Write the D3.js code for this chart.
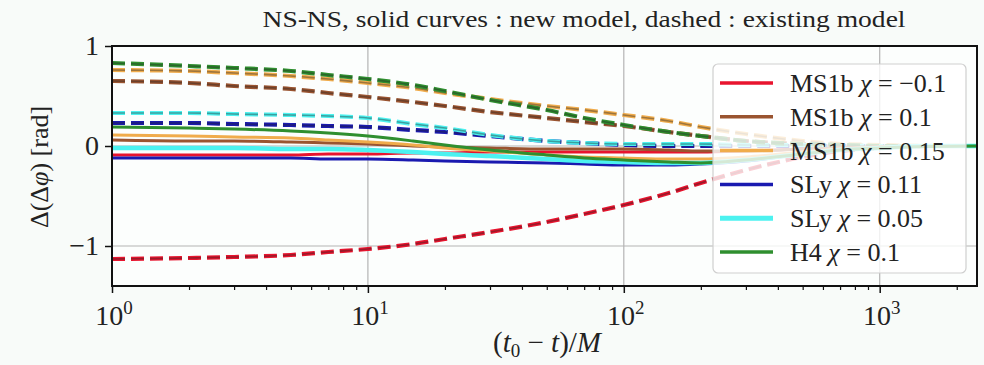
<!DOCTYPE html>
<html>
<head>
<meta charset="utf-8">
<script src="https://cdnjs.cloudflare.com/ajax/libs/d3/7.8.5/d3.min.js"></script>
<style>
  body { margin: 0; background: #f8fbf9; }
</style>
</head>
<body>
<div id="chart"></div>
<script>
// time samples (t0 - t)/M
var times = [1, 2, 3, 5, 7, 10, 15, 20, 30, 50, 70, 100, 150, 200, 300, 500, 700, 1000, 1500, 2400];

// model labels and colours
var models = ["MS1b", "MS1b", "MS1b", "SLy", "SLy", "H4"];
var chis = ["\u22120.1", "0.1", "0.15", "0.11", "0.05", "0.1"];
var colors = ["#e8142e", "#9a5430", "#f0ac4c", "#1a1ab0", "#4cf2f0", "#2f8f2f"];

// solid curves : new model
var newRed    = [-0.09, -0.09, -0.09, -0.09, -0.08, -0.08, -0.07, -0.07, -0.06, -0.06, -0.06, -0.06, -0.06, -0.06, -0.05, -0.03, -0.02, -0.01, 0, 0];
var newBrown  = [0.06, 0.05, 0.05, 0.04, 0.03, 0.02, 0.0, -0.01, -0.02, -0.03, -0.03, -0.03, -0.04, -0.05, -0.05, -0.03, -0.02, -0.01, 0, 0];
var newOrange = [0.11, 0.10, 0.09, 0.08, 0.06, 0.04, 0.01, -0.02, -0.05, -0.09, -0.11, -0.12, -0.13, -0.13, -0.11, -0.06, -0.03, -0.01, 0, 0];
var newBlue   = [-0.12, -0.12, -0.12, -0.12, -0.13, -0.13, -0.14, -0.15, -0.16, -0.17, -0.18, -0.19, -0.19, -0.18, -0.15, -0.08, -0.04, -0.02, 0, 0];
var newCyan   = [-0.02, -0.02, -0.02, -0.03, -0.03, -0.04, -0.06, -0.08, -0.10, -0.13, -0.15, -0.16, -0.17, -0.17, -0.14, -0.08, -0.04, -0.02, 0, 0];
var newGreen  = [0.19, 0.18, 0.17, 0.15, 0.13, 0.10, 0.05, 0.01, -0.04, -0.09, -0.12, -0.14, -0.16, -0.17, -0.14, -0.08, -0.04, -0.02, -0.005, 0];

// dashed curves : existing model
var oldRed    = [-1.13, -1.12, -1.11, -1.09, -1.06, -1.03, -0.98, -0.93, -0.86, -0.76, -0.68, -0.59, -0.47, -0.37, -0.24, -0.11, -0.05, -0.02, 0, 0];
var oldBrown  = [0.65, 0.63, 0.60, 0.57, 0.53, 0.49, 0.44, 0.40, 0.34, 0.28, 0.24, 0.20, 0.14, 0.10, 0.05, 0.02, 0.01, 0, 0, 0];
var oldOrange = [0.76, 0.75, 0.73, 0.70, 0.67, 0.63, 0.58, 0.53, 0.47, 0.40, 0.36, 0.31, 0.25, 0.19, 0.12, 0.05, 0.02, 0.01, 0, 0];
var oldBlue   = [0.23, 0.23, 0.22, 0.21, 0.20, 0.19, 0.16, 0.14, 0.10, 0.05, 0.03, 0.01, 0.0, 0, 0, 0, 0, 0, 0, 0];
var oldCyan   = [0.33, 0.33, 0.32, 0.31, 0.30, 0.28, 0.22, 0.18, 0.11, 0.05, 0.03, 0.02, 0.02, 0.02, 0.01, 0.01, 0.005, 0, 0, 0];
var oldGreen  = [0.83, 0.80, 0.78, 0.75, 0.71, 0.67, 0.61, 0.55, 0.46, 0.36, 0.28, 0.21, 0.14, 0.10, 0.05, 0.02, 0.01, 0, 0, 0];

var newCurves = [newRed, newBrown, newOrange, newBlue, newCyan, newGreen];
var oldCurves = [oldRed, oldBrown, oldOrange, oldBlue, oldCyan, oldGreen];

// ticks
var yTicks = [-1, 0, 1];
var yTickLabels = ["\u22121", "0", "1"];
var xMajor = [1, 10, 100, 1000];
var xExps = ["0", "1", "2", "3"];

var serif = "'Liberation Serif', 'Times New Roman', 'DejaVu Serif', serif";

var svgWidth = 984, svgHeight = 365;
var margin = { top: 46, right: 7, bottom: 79, left: 112 };

var svg = d3.select("#chart").append("svg")
  .attr("width", svgWidth)
  .attr("height", svgHeight)
  .attr("font-family", serif)
  .style("font-family", serif);

var x = d3.scaleLog().domain([1, 2400]).range([margin.left, svgWidth - margin.right]);
var y = d3.scaleLinear().domain([-1.4, 1.0]).range([svgHeight - margin.bottom, margin.top]);

// plot background
svg.append("rect")
  .attr("x", x(1)).attr("y", y(1.0))
  .attr("width", x(2400) - x(1)).attr("height", y(-1.4) - y(1.0))
  .attr("fill", "#fcfefd");

svg.append("clipPath").attr("id", "clip")
  .append("rect")
  .attr("x", x(1)).attr("y", y(1.0))
  .attr("width", x(2400) - x(1)).attr("height", y(-1.4) - y(1.0));

// grid
var grid = svg.append("g").attr("stroke", "#b4b4b4").attr("stroke-width", 1.2);
grid.selectAll(".vg").data(xMajor.slice(1)).enter().append("line")
  .attr("x1", d => x(d)).attr("x2", d => x(d))
  .attr("y1", y(1.0)).attr("y2", y(-1.4));
grid.selectAll(".hg").data(yTicks).enter().append("line")
  .attr("x1", x(1)).attr("x2", x(2400))
  .attr("y1", d => y(d)).attr("y2", d => y(d));

var line = d3.line()
  .x((d, i) => x(times[i]))
  .y(d => y(d))
  .curve(d3.curveMonotoneX);

var plot = svg.append("g").attr("clip-path", "url(#clip)");

// dashed curves: coloured dash with darker core
oldCurves.forEach(function(c, i) {
  plot.append("path").datum(c)
    .attr("d", line).attr("fill", "none")
    .attr("stroke", colors[i]).attr("stroke-width", 4.2)
    .attr("stroke-dasharray", "13,6");
  plot.append("path").datum(c)
    .attr("d", line).attr("fill", "none")
    .attr("stroke", "#222").attr("stroke-opacity", 0.4).attr("stroke-width", 1.6)
    .attr("stroke-dasharray", "13,6");
});

// solid curves
newCurves.forEach(function(c, i) {
  plot.append("path").datum(c)
    .attr("d", line).attr("fill", "none")
    .attr("stroke", colors[i]).attr("stroke-width", i == 4 ? 4.5 : 3);
});

// axes
var bottom = y(-1.4);
svg.append("g").attr("transform", `translate(0,${bottom})`)
  .call(d3.axisBottom(x).tickValues(xMajor).tickSize(7).tickFormat(""))
  .call(g => g.select(".domain").remove())
  .selectAll("line").attr("stroke", "#111").attr("stroke-width", 1.5);

var minor = [];
[1, 10, 100, 1000].forEach(function(b) {
  for (var k = 2; k <= 9; k++) if (b * k <= 2400) minor.push(b * k);
});
svg.append("g").attr("transform", `translate(0,${bottom})`)
  .call(d3.axisBottom(x).tickValues(minor).tickSize(4).tickFormat(""))
  .call(g => g.select(".domain").remove())
  .selectAll("line").attr("stroke", "#111").attr("stroke-width", 1.2);

svg.append("g").attr("transform", `translate(${x(1)},0)`)
  .call(d3.axisLeft(y).tickValues(yTicks).tickSize(7).tickFormat(""))
  .call(g => g.select(".domain").remove())
  .selectAll("line").attr("stroke", "#111").attr("stroke-width", 1.5);

// x tick labels 10^n
var xl = svg.append("g").selectAll("text").data(xMajor).enter().append("text")
  .attr("x", d => x(d) + 2).attr("y", 325)
  .attr("text-anchor", "middle")
  .attr("font-size", 28).attr("fill", "#222");
xl.append("tspan").text("10");
xl.append("tspan").attr("dy", -11).attr("font-size", 19).text((d, i) => xExps[i]);

// y tick labels
svg.append("g").selectAll("text").data(yTicks).enter().append("text")
  .attr("x", 99).attr("y", d => y(d) + 9)
  .attr("text-anchor", "end")
  .attr("font-size", 28).attr("fill", "#222")
  .text((d, i) => yTickLabels[i]);

// frame
svg.append("rect")
  .attr("x", x(1)).attr("y", y(1.0))
  .attr("width", x(2400) - x(1)).attr("height", y(-1.4) - y(1.0))
  .attr("fill", "none").attr("stroke", "#111").attr("stroke-width", 2);

// title
svg.append("text")
  .attr("x", 584).attr("y", 27)
  .attr("text-anchor", "middle")
  .attr("font-size", 24).attr("fill", "#222")
  .attr("textLength", 643).attr("lengthAdjust", "spacingAndGlyphs")
  .text("NS-NS,  solid curves : new model,  dashed : existing model");

// axis labels
var xlab = svg.append("text")
  .attr("x", 547).attr("y", 352)
  .attr("text-anchor", "middle")
  .attr("font-size", 29).attr("fill", "#222");
xlab.append("tspan").text("(");
xlab.append("tspan").attr("font-style", "italic").text("t");
xlab.append("tspan").attr("font-size", 19).attr("dy", 5).text("0");
xlab.append("tspan").attr("dy", -5).text(" \u2212 ");
xlab.append("tspan").attr("font-style", "italic").text("t");
xlab.append("tspan").text(")/");
xlab.append("tspan").attr("font-style", "italic").text("M");

var ylab = svg.append("text")
  .attr("transform", "translate(48,167) rotate(-90)")
  .attr("text-anchor", "middle")
  .attr("font-size", 26).attr("fill", "#222");
ylab.append("tspan").text("\u0394(\u0394");
ylab.append("tspan").attr("font-style", "italic").text("\u03c6");
ylab.append("tspan").text(")  [rad]");

// legend
var legend = svg.append("g");
legend.append("rect")
  .attr("x", 713).attr("y", 64).attr("width", 253).attr("height", 209)
  .attr("rx", 5)
  .attr("fill", "#ffffff").attr("fill-opacity", 0.8)
  .attr("stroke", "#cfcfcf").attr("stroke-width", 1.2);

var rows = legend.selectAll(".row").data(models).enter().append("g")
  .attr("transform", (d, i) => `translate(0,${83 + i * 33.8})`);
rows.append("line")
  .attr("x1", 720).attr("x2", 773)
  .attr("stroke", (d, i) => colors[i])
  .attr("stroke-width", (d, i) => i == 4 ? 5 : 3.5);
var lt = rows.append("text")
  .attr("x", 790).attr("y", 9)
  .attr("font-size", 26).attr("fill", "#222");
lt.append("tspan").text(d => d + " ");
lt.append("tspan").attr("font-style", "italic").text("\u03c7");
lt.append("tspan").text((d, i) => " = " + chis[i]);
</script>
</body>
</html>
